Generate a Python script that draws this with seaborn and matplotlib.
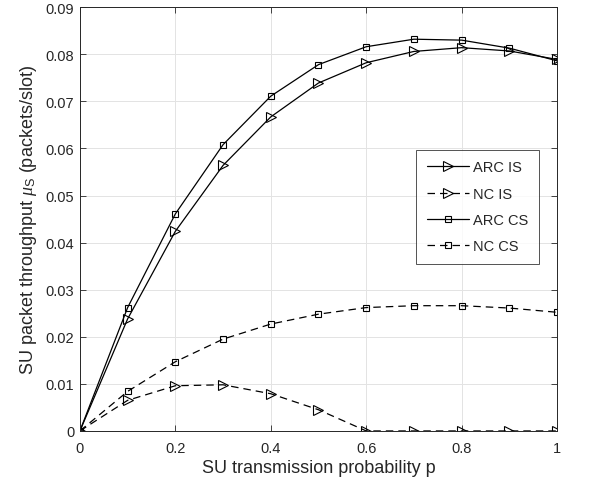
import numpy as np
import pandas as pd
import matplotlib
matplotlib.use('Agg')
import matplotlib.pyplot as plt
import seaborn as sns

p = [0, 0.1, 0.2, 0.3, 0.4, 0.5, 0.6, 0.7, 0.8, 0.9, 1.0]
arc_is = [0, 0.0238, 0.0424, 0.0564, 0.0667, 0.0739, 0.0782, 0.0806, 0.0814, 0.0807, 0.0789]
nc_is = [0, 0.0065, 0.0096, 0.0098, 0.0079, 0.0045, 0, 0, 0, 0, 0]
arc_cs = [0, 0.0262, 0.0461, 0.0608, 0.0711, 0.0778, 0.0816, 0.0832, 0.0830, 0.0813, 0.0786]
nc_cs = [0, 0.0084, 0.0147, 0.0195, 0.0227, 0.0248, 0.0262, 0.0266, 0.0266, 0.0261, 0.0252]

series = {'ARC IS': arc_is, 'NC IS': nc_is, 'ARC CS': arc_cs, 'NC CS': nc_cs}
df = pd.concat([pd.DataFrame({'p': p, 'mu': v, 'scheme': k}) for k, v in series.items()])

sns.set_style('ticks')
plt.rcParams['font.family'] = ['Liberation Sans', 'DejaVu Sans']
plt.rcParams['mathtext.fontset'] = 'custom'
plt.rcParams['mathtext.it'] = 'Liberation Serif:italic'
plt.rcParams['mathtext.rm'] = 'Liberation Sans'

fig = plt.figure(figsize=(5.92, 4.81), dpi=100)
ax = fig.add_axes([0.135, 0.102, 0.806, 0.881])

styles = {'ARC IS': ('>', '-'), 'NC IS': ('>', '--'), 'ARC CS': ('s', '-'), 'NC CS': ('s', '--')}
for name in series:
    mk, ls = styles[name]
    sub = df[df['scheme'] == name]
    sns.lineplot(data=sub, x='p', y='mu', ax=ax, color='black', linewidth=0.9,
                 linestyle=ls, marker=mk, markersize=6.5 if mk == '>' else 5,
                 markerfacecolor='none', markeredgecolor='black', markeredgewidth=0.8,
                 label=name)
    if ls == '--':
        ax.lines[-1].set_dashes((6, 4))

ax.set_xlim(0, 1)
ax.set_ylim(0, 0.09)
ax.set_xticks([0, 0.2, 0.4, 0.6, 0.8, 1])
ax.set_xticklabels(['0', '0.2', '0.4', '0.6', '0.8', '1'])
ax.set_yticks(np.arange(0, 0.091, 0.01))
ax.set_yticklabels(['0', '0.01', '0.02', '0.03', '0.04', '0.05', '0.06', '0.07', '0.08', '0.09'])
ax.grid(True, color='#e3e3e3', linewidth=0.7)
ax.set_axisbelow(True)
ax.tick_params(direction='in', top=True, right=True, labelsize=10.5, length=4, width=0.6,
               color='#262626', labelcolor='#262626', pad=4)
ax.tick_params(axis='x', pad=7)
for s in ax.spines.values():
    s.set_linewidth(0.7)
    s.set_color('#262626')
    s.set_visible(True)

ax.set_xlabel('SU transmission probability p', fontsize=13, color='#262626', labelpad=3)
ax.set_ylabel(r'SU packet throughput $\mu_{\rm S}$ (packets/slot)', fontsize=13, color='#262626', labelpad=5)

leg = ax.legend(loc='upper left', bbox_to_anchor=(0.69, 0.68), fontsize=10.5, frameon=True,
                fancybox=False, edgecolor='#262626', handlelength=2.9, labelspacing=0.85,
                borderpad=0.7, handletextpad=0.3)
leg.get_frame().set_linewidth(0.7)

fig.savefig('out.png', dpi=100)
